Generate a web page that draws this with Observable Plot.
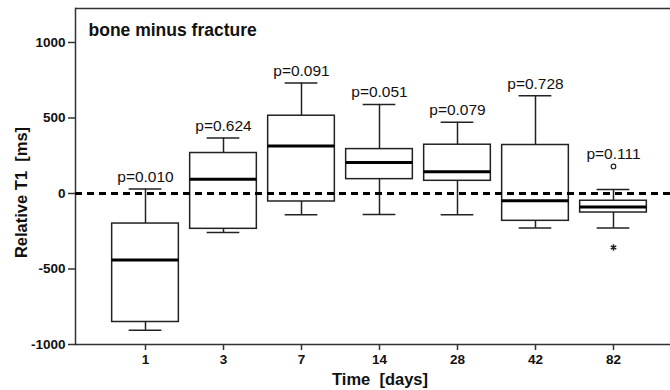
<!DOCTYPE html>
<html>
<head>
<meta charset="utf-8">
<script src="https://cdn.jsdelivr.net/npm/d3@7"></script>
<script src="https://cdn.jsdelivr.net/npm/@observablehq/plot@0.6"></script>
<style>
  html, body { margin: 0; padding: 0; background: #fff; overflow: hidden; }
  #chart svg { display: block; }
</style>
</head>
<body>
<div id="chart"></div>
<script>
const days = ["1", "3", "7", "14", "28", "42", "82"];
const lowerWhisker = [-906, -259, -141, -139, -141, -229, -229];
const q1 = [-851, -234, -53, 95, 84, -181, -126];
const median = [-440, 95, 314, 206, 144, -48, -90];
const q3 = [-199, 268, 515, 294, 323, 321, -48];
const upperWhisker = [29, 367, 732, 590, 471, 648, 27];
const pLabels = ["p=0.010", "p=0.624", "p=0.091", "p=0.051", "p=0.079", "p=0.728", "p=0.111"];
const outlierDays = ["82"];
const outlierValues = [179];
const extremeDays = ["82"];
const extremeValues = [-358];
const yTicks = [-1000, -500, 0, 500, 1000];
const yDomain = [-1000, 1225];
const chartTitle = "bone minus fracture";
const xTitle = "Time  [days]";
const yTitle = "Relative T1  [ms]";

const rows = days.map((d, i) => {
  const outs = outlierDays.map((od, j) => od === d ? outlierValues[j] : -Infinity);
  return {
    day: d, lo: lowerWhisker[i], q1: q1[i], med: median[i], q3: q3[i], hi: upperWhisker[i],
    p: pLabels[i], top: Math.max(upperWhisker[i], ...outs)
  };
});
const outliers = outlierDays.map((d, i) => ({day: d, value: outlierValues[i]}));
const extremes = extremeDays.map((d, i) => ({day: d, value: extremeValues[i]}));

const ink = "#222";
const axisInk = "#333";
const font = "'Liberation Sans', Arial, Helvetica, sans-serif";

const chart = Plot.plot({
  width: 670,
  height: 390,
  marginTop: 8,
  marginBottom: 46,
  marginLeft: 75,
  marginRight: 0,
  style: {fontFamily: font, color: "#111", background: "#fff"},
  x: {type: "band", domain: days, range: [75, 683], round: false, paddingInner: 0.145, paddingOuter: 0.47},
  y: {domain: yDomain},
  marks: [
    Plot.frame({anchor: "left", stroke: axisInk, strokeWidth: 1.5}),
    Plot.ruleY([yDomain[1]], {stroke: axisInk, strokeWidth: 1.5}),
    Plot.ruleY([yDomain[0]], {stroke: axisInk, strokeWidth: 1.5}),
    Plot.axisY({ticks: yTicks, tickSize: 7, tickPadding: 3, tickFormat: d => String(d),
      fontSize: 13.5, fontWeight: "bold", stroke: axisInk, strokeWidth: 1.5, label: null}),
    Plot.axisX({ticks: days, tickSize: 6, tickPadding: 4, fontSize: 13.5, fontWeight: "bold",
      stroke: axisInk, strokeWidth: 1.5, label: null}),
    Plot.ruleX(rows, {x: "day", y1: "lo", y2: "q1", stroke: ink, strokeWidth: 1.5}),
    Plot.ruleX(rows, {x: "day", y1: "q3", y2: "hi", stroke: ink, strokeWidth: 1.5}),
    Plot.tickY(rows, {x: "day", y: "lo", insetLeft: 17, insetRight: 17, stroke: ink, strokeWidth: 1.5}),
    Plot.tickY(rows, {x: "day", y: "hi", insetLeft: 17, insetRight: 17, stroke: ink, strokeWidth: 1.5}),
    Plot.barY(rows, {x: "day", y1: "q1", y2: "q3", fill: "#fff", stroke: ink, strokeWidth: 1.5}),
    Plot.tickY(rows, {x: "day", y: "med", stroke: "#000", strokeWidth: 3}),
    Plot.ruleY([0], {stroke: "#000", strokeWidth: 3, strokeDasharray: "7,5"}),
    Plot.dot(outliers, {x: "day", y: "value", r: 2.3, stroke: ink, strokeWidth: 1.2, fill: "#fff"}),
    Plot.dot(extremes, {x: "day", y: "value", r: 3, symbol: "asterisk", stroke: ink, strokeWidth: 1.5}),
    Plot.text(rows, {x: "day", y: "top", text: "p", dy: -7, lineAnchor: "bottom",
      fontSize: 15.5, fill: "#111"}),
    Plot.text([chartTitle], {frameAnchor: "top-left", dx: 13, dy: 15, lineAnchor: "top",
      textAnchor: "start", fontSize: 17.5, fontWeight: "bold", fill: "#111"}),
    Plot.text([xTitle], {frameAnchor: "bottom", dx: 7, dy: 35, lineAnchor: "middle",
      fontSize: 16.5, fontWeight: "bold", fill: "#111"}),
    Plot.text([yTitle], {frameAnchor: "left", dx: -54, dy: 16, rotate: -90, lineAnchor: "middle",
      textAnchor: "middle", fontSize: 16.5, fontWeight: "bold", fill: "#111"})
  ]
});
document.getElementById("chart").appendChild(chart);
</script>
</body>
</html>
